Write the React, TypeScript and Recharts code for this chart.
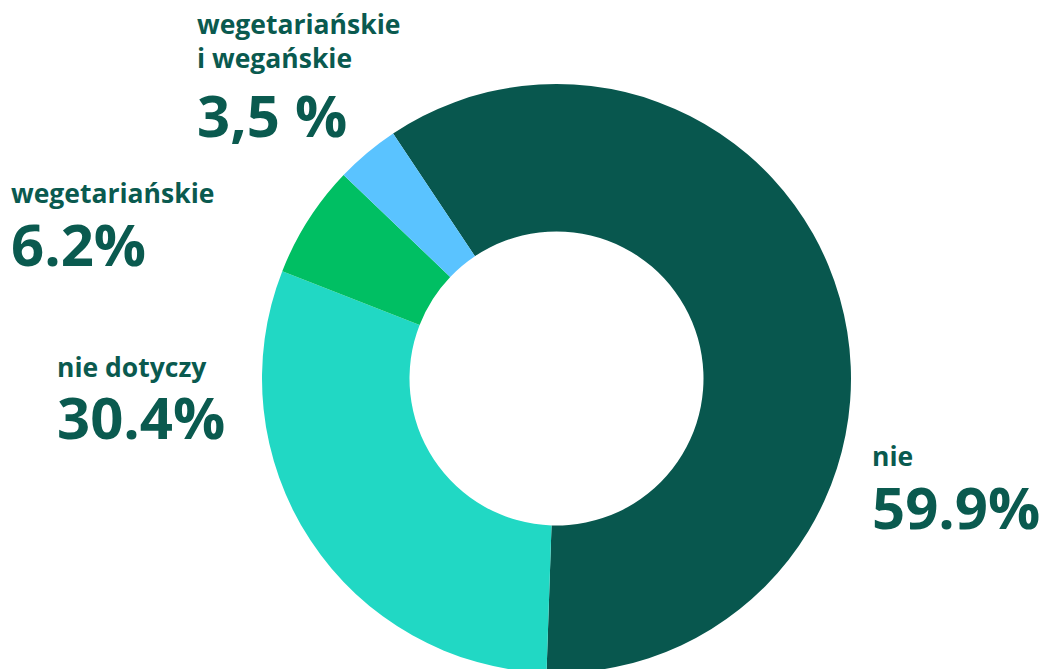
import React from "react";
import { PieChart, Pie, Cell } from "recharts";

const categories = ["nie", "nie dotyczy", "wegetariańskie", "wegetariańskie i wegańskie"];
const values = [59.9, 30.4, 6.2, 3.5];
const valueLabels = ["59.9%", "30.4%", "6.2%", "3,5 %"];
const nameLines = [["nie"], ["nie dotyczy"], ["wegetariańskie"], ["wegetariańskie", "i wegańskie"]];
const colors = ["#08574E", "#21D8C4", "#00BF63", "#5AC3FF"];

const TEXT_COLOR = "#0A5A4F";
const FONT = "'Open Sans', 'Noto Sans', sans-serif";

// label layout: left x, baseline of first name line, baseline of value
const labelLayout = [
  { x: 872, nameY: 466, valueY: 529 },
  { x: 57, nameY: 377, valueY: 439 },
  { x: 11, nameY: 203, valueY: 266 },
  { x: 197, nameY: 34, valueY: 137 },
];

const data = categories.map((c, i) => ({ name: c, value: values[i] }));

const renderLabel = (props: any) => {
  const i = props.index;
  const l = labelLayout[i];
  return (
    <g key={`lbl-${i}`}>
      {nameLines[i].map((line, j) => (
        <text
          key={j}
          x={l.x}
          y={l.nameY + j * 34}
          fill={TEXT_COLOR}
          fontFamily={FONT}
          fontWeight={700}
          fontSize={26.5}
          textAnchor="start"
        >
          {line}
        </text>
      ))}
      <text
        x={l.x}
        y={l.valueY}
        fill={TEXT_COLOR}
        fontFamily={FONT}
        fontWeight={700}
        fontSize={58}
        textAnchor="start"
      >
        {valueLabels[i]}
      </text>
    </g>
  );
};

export default function App() {
  return (
    <div style={{ position: "absolute", left: 0, top: 0, width: 1041, height: 669, overflow: "hidden", background: "#fff" }}>
      <PieChart width={1041} height={669} margin={{ top: 0, right: 0, bottom: 0, left: 0 }}>
        <Pie
          data={data}
          dataKey="value"
          nameKey="name"
          cx={556.5}
          cy={378.5}
          innerRadius={147}
          outerRadius={294.5}
          startAngle={123.7}
          endAngle={-236.3}
          stroke="none"
          isAnimationActive={false}
          label={renderLabel}
          labelLine={false}
        >
          {data.map((d, i) => (
            <Cell key={d.name} fill={colors[i]} />
          ))}
        </Pie>
      </PieChart>
    </div>
  );
}
